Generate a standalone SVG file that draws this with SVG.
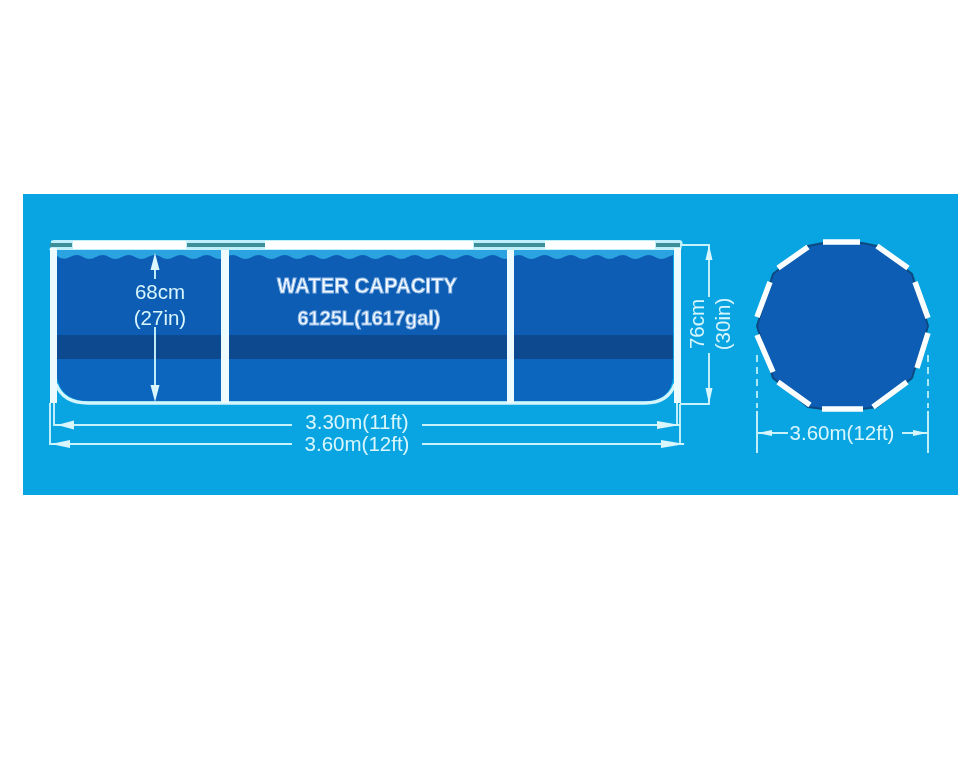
<svg xmlns="http://www.w3.org/2000/svg" width="977" height="771" viewBox="0 0 977 771">
<style>
.dim{fill:none;stroke:#c8f2fb;stroke-width:1.9}
.rail{fill:none;stroke:#fbfeff;stroke-width:5.5}
.frame{fill:#eefbfe}
.lab{font-family:"Liberation Sans",Arial,sans-serif;font-size:20.5px;fill:#d9f6fc;text-anchor:middle}
.cap{font-family:"Liberation Sans",Arial,sans-serif;font-weight:bold;fill:#f4fbff;stroke:#8fb6e4;stroke-width:1;text-anchor:middle}
.head{fill:#d9f6fc}
.dash{fill:none;stroke:#c8f2fb;stroke-width:1.7;stroke-dasharray:7 5}
</style>
<defs>
<clipPath id="inner"><path d="M57 250H673V378Q670 401 645 401H88Q62 401 57 378Z"/></clipPath>
<filter id="soft" x="-5%" y="-5%" width="110%" height="110%"><feGaussianBlur stdDeviation="0.5"/></filter>
</defs>
<rect width="977" height="771" fill="#fff"/>
<rect id="panel" x="23" y="194" width="935" height="301" fill="#08a5e2"/>
<g filter="url(#soft)">
<g id="pool-side">
<g clip-path="url(#inner)">
<rect x="57" y="250" width="616" height="85" fill="#0b5db4"/>
<rect x="57" y="335" width="616" height="24" fill="#07488f"/>
<rect x="57" y="359" width="616" height="43" fill="#0a66bd"/>
<path d="M57 250V256Q63 261 70 257T83 257T96 257T109 257T122 257T135 257T148 257T161 257T174 257T187 257T200 257T213 257T226 257T239 257T252 257T265 257T278 257T291 257T304 257T317 257T330 257T343 257T356 257T369 257T382 257T395 257T408 257T421 257T434 257T447 257T460 257T473 257T486 257T499 257T512 257T525 257T538 257T551 257T564 257T577 257T590 257T603 257T616 257T629 257T642 257T655 257T668 257L673 255V250Z" fill="#2ba3e0"/>
</g>
<path d="M52 245Q49 240 54 240H679Q684 240 682 246L681 250H49Z" fill="#bfeffa"/>
<rect x="50" y="243" width="22" height="4" fill="#3c8f9a"/>
<rect x="187" y="243" width="78" height="4" fill="#3c8f9a"/>
<rect x="474" y="243" width="71" height="4" fill="#3c8f9a"/>
<rect x="656" y="243" width="24" height="4" fill="#3c8f9a"/>
<rect x="73" y="241" width="113" height="8" fill="#fff"/>
<rect x="265" y="241" width="208" height="8" fill="#fff"/>
<rect x="545" y="241" width="110" height="8" fill="#fff"/>
<path d="M56 384Q63 403 88 403H645Q668 403 675 384" fill="none" stroke="#d4f5fc" stroke-width="3.5"/>
<rect class="frame" x="50" y="248" width="7" height="155"/>
<rect class="frame" x="674" y="248" width="7" height="155"/>
<rect class="frame" x="221" y="250" width="8" height="153"/>
<rect class="frame" x="507" y="250" width="7" height="153"/>
</g>
<g id="connectors">
<path class="dim" d="M54 403V425H292M422 425H680M677 403V425"/>
<path class="dim" d="M50 403V444H292M422 444H684M680 404V444"/>
<path class="head" d="M57 425L74 420.500V429.500Z"/>
<path class="head" d="M51 444L70 440V448Z"/>
<path class="head" d="M680 425L657 421V429Z"/>
<path class="head" d="M685 444L661 440V448Z"/>
<path class="dim" d="M155 262V279M155 327V395"/>
<path class="head" d="M155 253L159.500 270H150.500Z"/>
<path class="head" d="M155 402L150.500 385H159.500Z"/>
<path class="dim" d="M682 245H709V297M709 353V404H680"/>
<path class="head" d="M709 245L712.500 260H705.500Z"/>
<path class="head" d="M709 404L705.500 388H712.500Z"/>
<path class="dash" d="M757 355V408M928 355V408"/>
<path class="dim" d="M757 411V453M928 411V453M757 433H788M902 433H928"/>
<path class="head" d="M758 433L772 430V436Z"/>
<path class="head" d="M927 433L913 430V436Z"/>
</g>
<g id="pool-top">
<polygon points="757,326 773,274 808,246 823,243 862,243 877,246 912,274 928,326 912,378 877,407 862,409 823,409 808,407 773,378" fill="#0b5db4" stroke="#0a4a80" stroke-width="2" stroke-linejoin="round"/>
<path class="rail" d="M823 242H860M877 246L908 268M915 282L928 318M928 333L917 368M907 382L873 407M822 409H863M810 405L778 382M757 335L773 372M757 317L770 282M778 268L808 247"/>
</g>
<g id="labels">
<text class="lab" x="160" y="299">68cm</text>
<text class="lab" x="160" y="325">(27in)</text>
<text class="lab" x="357" y="429">3.30m(11ft)</text>
<text class="lab" x="357" y="451">3.60m(12ft)</text>
<text class="lab" x="842" y="440">3.60m(12ft)</text>
<text class="lab" transform="translate(704 324) rotate(-90)">76cm</text>
<text class="lab" transform="translate(730 324) rotate(-90)">(30in)</text>
<text class="cap" x="367" y="293" font-size="22" textLength="180" lengthAdjust="spacingAndGlyphs">WATER CAPACITY</text>
<text class="cap" x="369" y="325" font-size="21" textLength="143" lengthAdjust="spacingAndGlyphs">6125L(1617gal)</text>
</g>
</g>
</svg>
